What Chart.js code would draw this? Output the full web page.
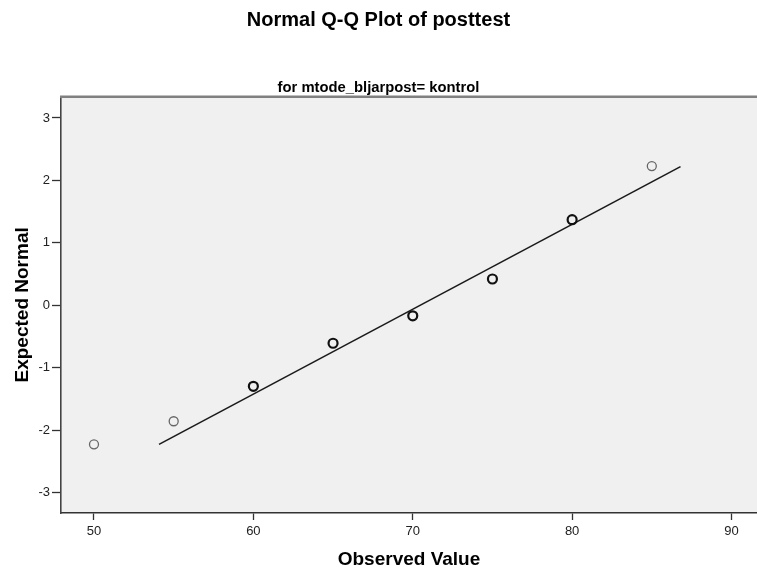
<!DOCTYPE html>
<html>
<head>
<meta charset="utf-8">
<script src="https://cdn.jsdelivr.net/npm/chart.js@4.4.1/dist/chart.umd.min.js"></script>
<style>
  html, body { margin: 0; padding: 0; background: #ffffff; overflow: hidden; }
  #wrap { width: 757px; height: 574px; }
</style>
</head>
<body>
<div id="wrap"><canvas id="c" width="757" height="574"></canvas></div>
<script>
// ---- data ----
const observedValues = [50, 55, 60, 65, 70, 75, 80, 85];
const expectedNormal = [-2.23, -1.86, -1.30, -0.61, -0.17, 0.42, 1.37, 2.23];
const tieCounts      = [1, 1, 2, 2, 2, 2, 2, 1];
const lineX = [54.08, 86.8];
const lineY = [-2.23, 2.22];
const xTicks = [50, 60, 70, 80, 90];
const yTicks = [-3, -2, -1, 0, 1, 2, 3];
const chartTitle = 'Normal Q-Q Plot of posttest';
const chartSubtitle = 'for mtode_bljarpost= kontrol';
const xTitle = 'Observed Value';
const yTitle = 'Expected Normal';

const FONT = "'Liberation Sans', Arial, sans-serif";

const pts = observedValues.map((x, i) => ({ x: x, y: expectedNormal[i] }));
const linePts = lineX.map((x, i) => ({ x: x, y: lineY[i] }));

const framePlugin = {
  id: 'frame',
  beforeDraw(chart) {
    const { ctx, chartArea: a } = chart;
    ctx.save();
    ctx.fillStyle = '#f0f0f0';
    ctx.fillRect(a.left, a.top, a.right - a.left, a.bottom - a.top);
    ctx.restore();
  },
  afterDraw(chart) {
    const { ctx, chartArea: a } = chart;
    ctx.save();
    ctx.strokeStyle = '#808080';
    ctx.lineWidth = 2.5;
    ctx.beginPath();
    ctx.moveTo(a.left - 1, a.top);
    ctx.lineTo(chart.width, a.top);
    ctx.stroke();
    ctx.restore();
  }
};

new Chart(document.getElementById('c'), {
  type: 'scatter',
  data: {
    datasets: [
      {
        type: 'line',
        data: linePts,
        borderColor: '#1a1a1a',
        borderWidth: 1.6,
        pointRadius: 0,
        fill: false,
        order: 2
      },
      {
        type: 'scatter',
        data: pts,
        pointStyle: 'circle',
        pointRadius: 4.5,
        backgroundColor: 'rgba(0,0,0,0)',
        borderColor: ctx => tieCounts[ctx.dataIndex] > 1 ? '#111111' : '#666666',
        borderWidth: ctx => tieCounts[ctx.dataIndex] > 1 ? 2.2 : 1.3,
        order: 1
      }
    ]
  },
  options: {
    responsive: false,
    animation: false,
    events: [],
    layout: { autoPadding: false, padding: { left: 0, right: 0, top: 0, bottom: 0 } },
    plugins: {
      legend: { display: false },
      tooltip: { enabled: false },
      title: {
        display: true,
        text: chartTitle,
        color: '#000',
        font: { family: FONT, size: 20, weight: 'bold', lineHeight: 1.2 },
        padding: { top: 8, bottom: 0 }
      },
      subtitle: {
        display: true,
        text: chartSubtitle,
        color: '#000',
        font: { family: FONT, size: 14.8, weight: 'bold', lineHeight: 1.2 },
        padding: { top: 47, bottom: 0 }
      }
    },
    scales: {
      x: {
        type: 'linear',
        min: 47.93,
        max: 91.6,
        afterFit: s => { s.height = 61; },
        afterBuildTicks: s => { s.ticks = xTicks.map(v => ({ value: v })); },
        ticks: {
          includeBounds: false,
          color: '#222',
          font: { family: FONT, size: 13 },
          padding: 4,
          maxRotation: 0,
          callback: v => String(v)
        },
        grid: { drawOnChartArea: false, drawTicks: true, tickLength: 7, tickColor: '#333', tickWidth: 1.3 },
        border: { display: true, color: '#333', width: 1.5 },
        title: {
          display: true,
          text: xTitle,
          color: '#000',
          font: { family: FONT, size: 19, weight: 'bold', lineHeight: 1.2 },
          padding: { top: 0, bottom: 3 }
        }
      },
      y: {
        type: 'linear',
        min: -3.33,
        max: 3.34,
        afterFit: s => { s.width = 61; },
        afterBuildTicks: s => { s.ticks = yTicks.map(v => ({ value: v })); },
        ticks: {
          includeBounds: false,
          color: '#222',
          font: { family: FONT, size: 13 },
          padding: 2,
          callback: v => String(v)
        },
        grid: { drawOnChartArea: false, drawTicks: true, tickLength: 9, tickColor: '#333', tickWidth: 1.3 },
        border: { display: true, color: '#444', width: 1.6 },
        title: {
          display: true,
          text: yTitle,
          color: '#000',
          font: { family: FONT, size: 19, weight: 'bold', lineHeight: 1.2 },
          padding: { top: 11, bottom: 0 }
        }
      }
    }
  },
  plugins: [framePlugin]
});
</script>
</body>
</html>
